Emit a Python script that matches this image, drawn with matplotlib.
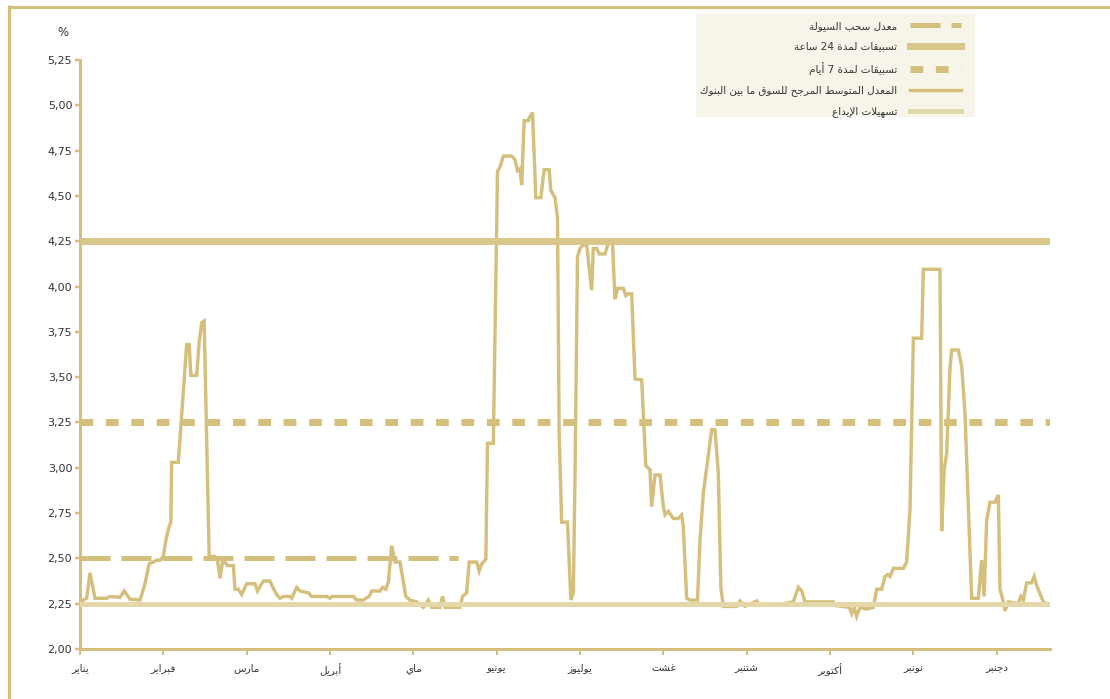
import matplotlib
matplotlib.use("Agg")
import matplotlib.pyplot as plt
from matplotlib.lines import Line2D
from matplotlib.patches import Rectangle

# ---------------- data ----------------
months = ["يناير", "فبراير", "مارس", "أبريل", "ماي", "يونيو",
          "يوليوز", "غشت", "شتنبر", "أكتوبر", "نونبر", "دجنبر"]
month_pos = list(range(12))

yticks = [2.00, 2.25, 2.50, 2.75, 3.00, 3.25, 3.50, 3.75, 4.00, 4.25, 4.50, 4.75, 5.00, 5.25]

labels = ["معدل سحب السيولة", "تسبيقات لمدة 24 ساعة", "تسبيقات لمدة 7 أيام",
          "المعدل المتوسط المرجح للسوق ما بين البنوك", "تسهيلات الإيداع"]

# interbank weighted average rate (x in months since January)
t = [0.00, 0.08, 0.12, 0.18, 0.32, 0.36, 0.48, 0.53, 0.60, 0.72,
     0.78, 0.83, 0.88, 0.92, 0.96, 1.00, 1.03, 1.06, 1.09, 1.10,
     1.18, 1.28, 1.31, 1.33, 1.40, 1.43, 1.46, 1.49, 1.55, 1.62,
     1.65, 1.68, 1.71, 1.74, 1.77, 1.84, 1.86, 1.90, 1.94, 2.00,
     2.10, 2.13, 2.20, 2.28, 2.32, 2.36, 2.40, 2.44, 2.52, 2.54,
     2.60, 2.64, 2.74, 2.78, 2.96, 3.00, 3.02, 3.28, 3.32, 3.40,
     3.43, 3.47, 3.50, 3.60, 3.63, 3.67, 3.70, 3.74, 3.78, 3.84,
     3.91, 3.96, 4.04, 4.12, 4.18, 4.22, 4.32, 4.35, 4.38, 4.56,
     4.59, 4.64, 4.67, 4.76, 4.79, 4.82, 4.87, 4.89, 4.96, 5.01,
     5.04, 5.08, 5.18, 5.22, 5.25, 5.28, 5.30, 5.33, 5.38, 5.39,
     5.43, 5.47, 5.53, 5.57, 5.63, 5.65, 5.70, 5.73, 5.75, 5.78,
     5.85, 5.89, 5.92, 5.94, 5.97, 6.00, 6.04, 6.08, 6.14, 6.16,
     6.20, 6.23, 6.30, 6.34, 6.39, 6.42, 6.45, 6.52, 6.55, 6.58,
     6.62, 6.66, 6.74, 6.79, 6.84, 6.86, 6.90, 6.96, 7.00, 7.02,
     7.06, 7.12, 7.18, 7.22, 7.24, 7.28, 7.32, 7.41, 7.44, 7.48,
     7.58, 7.62, 7.66, 7.69, 7.72, 7.88, 7.92, 7.98, 8.12, 8.16,
     8.44, 8.56, 8.62, 8.66, 8.70, 9.04, 9.06, 9.23, 9.26, 9.29,
     9.32, 9.36, 9.44, 9.52, 9.56, 9.62, 9.66, 9.69, 9.72, 9.76,
     9.88, 9.92, 9.96, 10.00, 10.10, 10.12, 10.32, 10.34, 10.37, 10.40,
     10.44, 10.46, 10.54, 10.58, 10.62, 10.68, 10.70, 10.78, 10.82, 10.85,
     10.88, 10.92, 10.98, 11.02, 11.04, 11.08, 11.10, 11.14, 11.26, 11.29,
     11.32, 11.36, 11.42, 11.45, 11.48, 11.56, 11.60]
interbank = [2.26, 2.28, 2.42, 2.28, 2.28, 2.29, 2.285, 2.32, 2.275, 2.27,
             2.36, 2.47, 2.48, 2.49, 2.49, 2.51, 2.60, 2.66, 2.70, 3.03,
             3.03, 3.68, 3.68, 3.51, 3.51, 3.69, 3.80, 3.81, 2.51, 2.51,
             2.49, 2.39, 2.48, 2.48, 2.46, 2.46, 2.33, 2.33, 2.30, 2.36,
             2.36, 2.32, 2.375, 2.375, 2.335, 2.30, 2.28, 2.29, 2.29, 2.28,
             2.34, 2.32, 2.31, 2.29, 2.29, 2.28, 2.29, 2.29, 2.27, 2.27,
             2.28, 2.29, 2.32, 2.32, 2.34, 2.33, 2.37, 2.57, 2.48, 2.48,
             2.29, 2.27, 2.26, 2.23, 2.27, 2.23, 2.23, 2.29, 2.23, 2.23,
             2.29, 2.31, 2.48, 2.48, 2.43, 2.47, 2.495, 3.135, 3.135, 4.635,
             4.66, 4.72, 4.72, 4.70, 4.64, 4.65, 4.56, 4.915, 4.915, 4.93,
             4.96, 4.49, 4.49, 4.645, 4.645, 4.53, 4.49, 4.38, 3.19, 2.70,
             2.70, 2.27, 2.31, 2.95, 4.165, 4.21, 4.23, 4.23, 3.98, 4.21,
             4.21, 4.18, 4.18, 4.24, 4.24, 3.93, 3.99, 3.99, 3.95, 3.96,
             3.96, 3.49, 3.485, 3.01, 2.99, 2.785, 2.96, 2.96, 2.785, 2.74,
             2.76, 2.72, 2.72, 2.74, 2.67, 2.28, 2.27, 2.27, 2.60, 2.86,
             3.21, 3.21, 2.97, 2.34, 2.235, 2.235, 2.265, 2.235, 2.265, 2.24,
             2.25, 2.26, 2.34, 2.32, 2.26, 2.26, 2.24, 2.23, 2.195, 2.23,
             2.18, 2.23, 2.22, 2.23, 2.33, 2.33, 2.40, 2.41, 2.40, 2.445,
             2.445, 2.48, 2.77, 3.715, 3.715, 4.095, 4.095, 2.65, 2.99, 3.08,
             3.55, 3.65, 3.65, 3.56, 3.30, 2.53, 2.28, 2.28, 2.49, 2.29,
             2.71, 2.81, 2.81, 2.85, 2.33, 2.26, 2.21, 2.26, 2.25, 2.29,
             2.27, 2.365, 2.365, 2.40, 2.35, 2.26, 2.25]

# policy rates
withdrawal_t = [0.0, 4.53]
withdrawal = [2.50, 2.50]
span_t = [0.0, 11.64]
adv_24h = [4.25, 4.25]
adv_7d = [3.25, 3.25]
deposit = [2.25, 2.25]

# ---------------- Arabic shaping helper ----------------
_letters = [('\u0621', 1), ('\u0622', 2), ('\u0623', 2), ('\u0624', 2), ('\u0625', 2),
            ('\u0626', 4), ('\u0627', 2), ('\u0628', 4), ('\u0629', 2), ('\u062A', 4),
            ('\u062B', 4), ('\u062C', 4), ('\u062D', 4), ('\u062E', 4), ('\u062F', 2),
            ('\u0630', 2), ('\u0631', 2), ('\u0632', 2), ('\u0633', 4), ('\u0634', 4),
            ('\u0635', 4), ('\u0636', 4), ('\u0637', 4), ('\u0638', 4), ('\u0639', 4),
            ('\u063A', 4), ('\u0641', 4), ('\u0642', 4), ('\u0643', 4), ('\u0644', 4),
            ('\u0645', 4), ('\u0646', 4), ('\u0647', 4), ('\u0648', 2), ('\u0649', 2),
            ('\u064A', 4)]
FORMS = {}
_c = 0xFE80
for ch, n in _letters:
    f = [None, None, None, None]
    for k in range(n):
        f[k] = chr(_c + k)
    FORMS[ch] = f
    _c += n
LAM_ALEF = {'\u0622': 0xFEF5, '\u0623': 0xFEF7, '\u0625': 0xFEF9, '\u0627': 0xFEFB}


def _joins_left(ch):
    return ch in FORMS and FORMS[ch][2] is not None


def _joins_right(ch):
    return ch in FORMS and FORMS[ch][1] is not None


def ar(text):
    chars = list(text)
    n = len(chars)
    out = []
    i = 0
    while i < n:
        c = chars[i]
        if c not in FORMS:
            out.append(c)
            i += 1
            continue
        prev = chars[i - 1] if i > 0 else None
        conn_prev = prev is not None and _joins_left(prev) and _joins_right(c)
        if c == '\u0644' and i + 1 < n and chars[i + 1] in LAM_ALEF:
            code = LAM_ALEF[chars[i + 1]] + (1 if conn_prev else 0)
            out.append(chr(code))
            i += 2
            continue
        nxt = chars[i + 1] if i + 1 < n else None
        conn_next = nxt is not None and _joins_left(c) and _joins_right(nxt)
        if conn_prev and conn_next:
            g = FORMS[c][3]
        elif conn_prev:
            g = FORMS[c][1]
        elif conn_next:
            g = FORMS[c][2]
        else:
            g = FORMS[c][0]
        out.append(g)
        i += 1
    out = out[::-1]
    # restore left-to-right order of digit runs
    res = []
    j = 0
    while j < len(out):
        if out[j].isdigit():
            k = j
            while k < len(out) and (out[k].isdigit() or out[k] in ',.'):
                k += 1
            res.extend(out[j:k][::-1])
            j = k
        else:
            res.append(out[j])
            j += 1
    return ''.join(res)


# ---------------- style ----------------
plt.rcParams['font.family'] = ['DejaVu Sans']
plt.rcParams['lines.scale_dashes'] = False
GOLD = '#D4BF7D'
GOLD_24 = '#D8C68A'
LIGHT = '#E4D7AA'
TXT = '#333333'
px = 72 / 100.0  # points per pixel at dpi 100

fig = plt.figure(figsize=(11.10, 6.99), dpi=100)
W, H = 1110, 699
ax = fig.add_axes([80 / W, 50 / H, (1050 - 80) / W, (649 - 60) / H])

ax.plot(t, interbank, color=GOLD, lw=3.4 * px, solid_joinstyle='miter', zorder=2,
        label=ar(labels[3]))
ax.plot(withdrawal_t, withdrawal, color=GOLD, lw=5 * px, linestyle=(0, (30 * px, 11 * px)),
        dash_capstyle='butt', zorder=3, label=ar(labels[0]))
ax.plot(span_t, adv_24h, color=GOLD_24, lw=7 * px, zorder=3, label=ar(labels[1]))
ax.plot(span_t, adv_7d, color=GOLD, lw=7 * px, linestyle=(0, (12.7 * px, 12.7 * px)),
        dash_capstyle='butt', zorder=3, label=ar(labels[2]))
ax.plot(span_t, deposit, color=LIGHT, lw=5 * px, zorder=3, label=ar(labels[4]))

ax.set_xlim(0, 11.64)
ax.set_ylim(2.0, 5.25)

for s in ['top', 'right']:
    ax.spines[s].set_visible(False)
for s in ['left', 'bottom']:
    ax.spines[s].set_color(GOLD)
    ax.spines[s].set_linewidth(3 * px)

ax.set_yticks(yticks)
ax.set_yticklabels([f"{v:.2f}".replace('.', ',') for v in yticks])
ax.set_xticks(month_pos)
ax.set_xticklabels([ar(m) for m in months])
ax.tick_params(axis='y', length=5 * px, width=2.5 * px, color=GOLD, pad=2,
               labelsize=8, labelcolor=TXT)
ax.tick_params(axis='x', length=6 * px, width=2 * px, color=GOLD, pad=6,
               labelsize=7.5, labelcolor=TXT)
ax.patch.set_alpha(0)

ax.text(-17 / 970, 1 + 27 / 589, "%", transform=ax.transAxes, ha='center', va='center',
        fontsize=8.5, color=TXT)

# legend background box
fig.add_artist(Rectangle((696 / W, 1 - 117 / H), (975 - 696) / W, (117 - 14) / H,
                         transform=fig.transFigure, facecolor='#F7F4E9',
                         edgecolor='none', zorder=4))

# legend (order as in reference)
h, l = ax.get_legend_handles_labels()
order = [1, 2, 3, 0, 4]
leg = fig.legend([h[k] for k in order], [l[k] for k in order],
                 loc='upper right', bbox_to_anchor=(961 / W, 1 - 21 / H),
                 bbox_transform=fig.transFigure, markerfirst=False,
                 frameon=False, fontsize=7.5, handlelength=4.9,
                 handletextpad=1.2, labelspacing=1.0, borderpad=0,
                 borderaxespad=0)
leg.set_zorder(5)
for tx in leg.get_texts():
    tx.set_color(TXT)

# outer frame lines (top and left)
fig.add_artist(Line2D([8.5 / W, 1.0], [1 - 6.5 / H, 1 - 6.5 / H], transform=fig.transFigure,
                      color=GOLD, lw=3.2 * px, solid_capstyle='butt'))
fig.add_artist(Line2D([8.5 / W, 8.5 / W], [0, 1 - 5 / H], transform=fig.transFigure,
                      color=GOLD, lw=3.2 * px, solid_capstyle='butt'))

fig.savefig('out.png', dpi=100)
